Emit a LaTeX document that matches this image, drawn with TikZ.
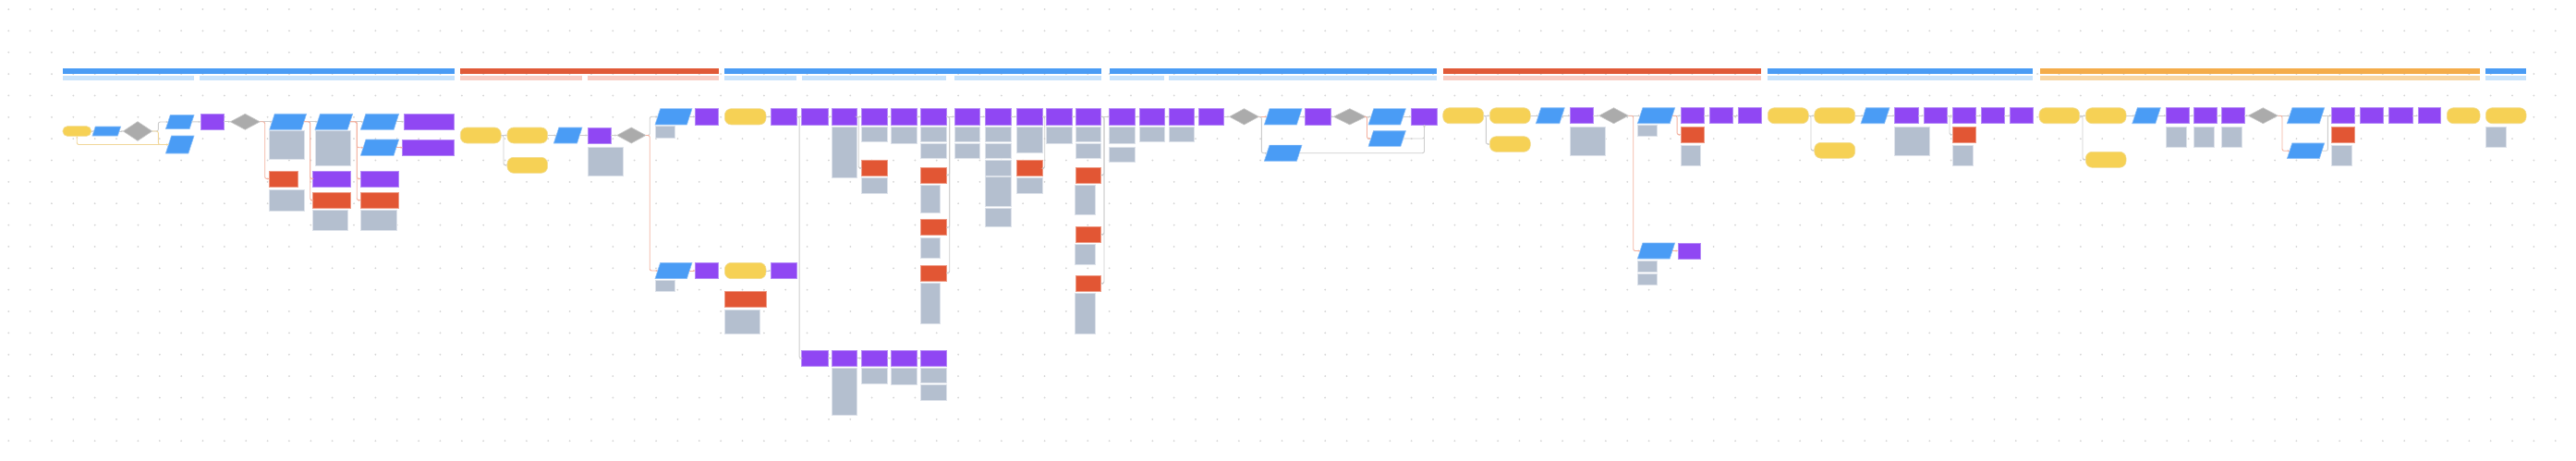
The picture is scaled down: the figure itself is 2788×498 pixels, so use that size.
\documentclass[tikz,border=0pt]{standalone}
\usetikzlibrary{shapes.geometric,arrows.meta}

\newlength{\px}
\setlength{\px}{0.02cm}

\definecolor{termfill}{HTML}{F6D155}
\definecolor{termline}{HTML}{F2DD94}
\definecolor{iofill}{HTML}{4A9CF5}
\definecolor{ioline}{HTML}{8DC0F8}
\definecolor{procfill}{HTML}{9047F3}
\definecolor{procline}{HTML}{B58BF7}
\definecolor{alertfill}{HTML}{E25634}
\definecolor{alertline}{HTML}{EE9A85}
\definecolor{notefill}{HTML}{B4BFCF}
\definecolor{noteline}{HTML}{DDE2EA}
\definecolor{decfill}{HTML}{ABABAB}
\definecolor{decline}{HTML}{C8C8C8}
\definecolor{flowgray}{HTML}{CCCCCC}
\definecolor{flowred}{HTML}{F4B09E}
\definecolor{flowtan}{HTML}{F1D79A}
\definecolor{dotc}{HTML}{D3D3D3}
\definecolor{hdblue}{HTML}{4A9CF5}
\definecolor{subblue}{HTML}{C8E3FC}
\definecolor{hdred}{HTML}{E05A38}
\definecolor{subred}{HTML}{F9CDC4}
\definecolor{hdorange}{HTML}{F4AC4A}
\definecolor{suborange}{HTML}{F8D6A2}

\begin{document}
\begin{tikzpicture}[
 x=0.02cm,y=-0.02cm,
 every node/.style={inner sep=0pt,outer sep=0pt},
 wh/.style 2 args={minimum width=#1\px,minimum height=#2\px},
 term/.style={rectangle,rounded corners=7\px,fill=termfill,draw=termline,line width=0.35pt},
 io/.style 2 args={trapezium,trapezium left angle=72,trapezium right angle=108,
  inner xsep={(#1/2-0.325*#2)*\px},inner ysep={#2/2*\px},
  fill=iofill,draw=ioline,line width=0.35pt},
 proc/.style={rectangle,fill=procfill,draw=procline,line width=0.35pt,wh={25}{17}},
 alert/.style={rectangle,fill=alertfill,draw=alertline,line width=0.35pt,wh={25}{17}},
 note/.style={rectangle,fill=notefill,draw=noteline,line width=0.35pt},
 dec/.style={diamond,fill=decfill,draw=decline,line width=0.35pt},
 flow/.style={draw=flowgray,line width=0.5pt,rounded corners=2\px,-{Stealth[length=1.3pt,width=1.2pt]}},
 noflow/.style={flow,draw=flowred},
 loopflow/.style={flow,draw=flowtan}
]
 \useasboundingbox (0,0) rectangle (2788,498);
 \fill[white] (0,0) rectangle (2788,498);

 % dotted canvas
 \foreach \i in {0,...,119}
  \foreach \j in {0,...,20}
   \fill[dotc] ({9.25+23.36*\i},{10+23.36*\j}) circle (1\px);

 % lane headers
 \foreach \a/\b/\c in {68/491.7/hdblue,498.3/777.7/hdred,784.3/1191.7/hdblue,
  1201/1555.3/hdblue,1561.7/1906.3/hdred,1913.3/2200.3/hdblue,
  2208.3/2684/hdorange,2690/2734/hdblue}
  \fill[\c] (\a,74.3) rectangle (\b,80);
 \foreach \a/\b/\c in {68/209.7/subblue,215.7/491.7/subblue,498.3/630/subred,
  636/777.7/subred,784.3/862/subblue,868/1024/subblue,1033/1191.7/subblue,
  1201/1260.3/subblue,1265/1555.3/subblue,1561.7/1906.3/subred,
  1913.3/2200.3/subblue,2208.3/2684/suborange,2690/2734/subblue}
  \fill[\c] (\a,81.7) rectangle (\b,87);

 % first lane
 \node[term,rounded corners=5\px,wh={30.7}{10.7}] (start) at (83.3,142) {};
 \node[io={30.7}{10}] (in1) at (115.3,142) {};
 \node[dec,wh={31.3}{20.7}] (d1) at (149,142) {};
 \node[io={30.7}{15.3}] (in2) at (194.7,132) {};
 \node[io={30.7}{19}] (in3) at (194.7,156.5) {};
 \node[proc] (p1) at (229.5,131.8) {};
 \node[dec,wh={32}{17}] (d2) at (265.3,131.8) {};

 \node[io={40}{17}] (in4) at (311.7,131.8) {};
 \node[note,wh={37.6}{31}] (n4) at (310.5,157.2) {};
 \node[alert,wh={30.6}{17}] (e4) at (307,193.5) {};
 \node[note,wh={37.6}{22.3}] (n4b) at (310.5,216.8) {};
 \node[io={40.7}{17}] (in5) at (361.3,131.8) {};
 \node[note,wh={38.3}{37.6}] (n5) at (360.2,160.5) {};
 \node[proc,wh={40.6}{17}] (p5) at (359,193.5) {};
 \node[alert,wh={40.6}{16.7}] (e5) at (359,216.7) {};
 \node[note,wh={38}{22}] (n5b) at (357.7,238.3) {};
 \node[io={41.4}{17}] (in6) at (411,131.8) {};
 \node[io={41.4}{17.3}] (in7) at (411,159.7) {};
 \node[proc,wh={41.4}{17}] (p6) at (411,193.5) {};
 \node[alert,wh={41.4}{16.7}] (e6) at (411,216.7) {};
 \node[note,wh={38.7}{22}] (n6) at (409.7,238.3) {};
 \node[proc,wh={54.7}{17}] (p7) at (464.3,131.8) {};
 \node[proc,wh={56}{17.3}] (p8) at (463.7,159.7) {};

 \draw[flow] (start) -- (in1);
 \draw[flow] (in1) -- (d1);
 \draw[flow] (d1.east) -- ++(6.7,0) |- (in2);
 \draw[loopflow] (d1.east) -- ++(6.7,0) |- (in3);
 \draw[loopflow] (in3.west) -| (start.south);
 \draw[flow] (in2) -- (p1);
 \draw[flow] (p1) -- (d2);
 \draw[flow] (d2) -- (in4);
 \draw[noflow] (d2.east) -- ++(5.4,0) |- (e4);
 \draw[flow] (in4) -- (in5);
 \draw[noflow] (in4.east) -- ++(6.8,0) |- (p5);
 \draw[noflow] (in4.east) -- ++(6.8,0) |- (e5);
 \draw[flow] (in5) -- (in6);
 \draw[noflow] (in5.east) -- ++(7.4,0) |- (in7);
 \draw[noflow] (in5.east) -- ++(7.4,0) |- (p6);
 \draw[noflow] (in5.east) -- ++(7.4,0) |- (e6);
 \draw[flow] (in6) -- (p7);
 \draw[noflow] (in7) -- (p8);

 % second lane
 \node[term,wh={44}{17}] (s2) at (520.3,146.5) {};
 \node[term,wh={43.7}{17}] (t2a) at (570.8,146.5) {};
 \node[term,wh={43.7}{17}] (t2b) at (570.8,178.8) {};
 \node[io={30.7}{17}] (in8) at (614.7,146.5) {};
 \node[proc] (p9) at (648.5,146.5) {};
 \node[note,wh={38.3}{30.7}] (n9) at (655.2,174.7) {};
 \node[dec,wh={31.3}{17}] (d3) at (683.3,146.5) {};
 \node[io={40}{17.3}] (in9) at (729,126.3) {};
 \node[note,wh={21}{12.6}] (n9a) at (719.5,143) {};
 \node[io={40}{17.3}] (in10) at (729,293) {};
 \node[note,wh={21}{12.4}] (n10) at (719.5,309.5) {};
 \node[proc,wh={25.3}{17.3}] (p10) at (765,126.3) {};
 \node[proc,wh={25.3}{17.3}] (p11) at (765,293) {};

 \draw[flow] (s2) -- (t2a);
 \draw[flow] (s2.east) -- ++(2.7,0) |- (t2b);
 \draw[flow] (t2a) -- (in8);
 \draw[flow] (in8) -- (p9);
 \draw[flow] (p9) -- (d3);
 \draw[flow] (d3.east) -- ++(4.3,0) |- (in9);
 \draw[noflow] (d3.east) -- ++(4.3,0) |- (in10);
 \draw[flow] (in9) -- (p10);
 \draw[noflow] (in10) -- (p11);

 % third lane, two rows of steps
 \node[term,wh={44.7}{17.3}] (s3a) at (806.7,126.3) {};
 \node[term,wh={44.7}{17.3}] (s3b) at (806.7,293) {};
 \node[alert,wh={44.7}{17.3}] (e12) at (806.7,323.7) {};
 \node[note,wh={38}{26}] (n12) at (803.3,348) {};
 \node[proc,wh={28.3}{17.3}] (p12) at (848.2,126.3) {};
 \node[proc,wh={28.3}{17.3}] (p13) at (848.2,293) {};

 \node[proc,wh={28.3}{17.3}] (q1) at (881.8,126.3) {};
 \node[proc,wh={27.7}{17.3}] (q2) at (913.8,126.3) {};
 \node[note,wh={27.7}{55.7}] (q2n) at (913.8,164.8) {};
 \node[proc,wh={27.7}{17.3}] (q3) at (946.2,126.3) {};
 \node[note,wh={27.7}{16.3}] (q3n) at (946.2,145.2) {};
 \node[alert,wh={27.7}{17.4}] (q3e) at (946.2,182) {};
 \node[note,wh={27.7}{16.3}] (q3m) at (946.2,200.8) {};
 \node[proc,wh={28}{17.3}] (q4) at (978,126.3) {};
 \node[note,wh={28}{18}] (q4n) at (978,146) {};
 \node[proc,wh={28}{17.3}] (q5) at (1010,126.3) {};
 \node[note,wh={28}{16.3}] (q5n) at (1010,145.2) {};
 \node[note,wh={28}{16.4}] (q5m) at (1010,163.5) {};
 \node[alert,wh={28}{17}] (q5e) at (1010,189.5) {};
 \node[note,wh={21.7}{30.4}] (q5en) at (1006.8,215.5) {};
 \node[alert,wh={28}{17}] (q5f) at (1010,246.2) {};
 \node[note,wh={21.7}{22}] (q5fn) at (1006.8,268) {};
 \node[alert,wh={28}{17}] (q5g) at (1010,295.5) {};
 \node[note,wh={21.7}{44}] (q5gn) at (1006.8,328.3) {};
 \node[proc,wh={27.7}{17.3}] (q6) at (1046.8,126.3) {};
 \node[note,wh={27.7}{16.3}] (q6n) at (1046.8,145.2) {};
 \node[note,wh={27.7}{16.4}] (q6m) at (1046.8,163.5) {};
 \node[proc,wh={28.3}{17.3}] (q7) at (1080.2,126.3) {};
 \node[note,wh={28.3}{16.3}] (q7n) at (1080.2,145.2) {};
 \node[note,wh={28.3}{16.4}] (q7m) at (1080.2,163.5) {};
 \node[note,wh={28.3}{16.3}] (q7o) at (1080.2,181.8) {};
 \node[note,wh={28.3}{32}] (q7p) at (1080.2,207.7) {};
 \node[note,wh={28.3}{20}] (q7r) at (1080.2,235.7) {};
 \node[proc,wh={28}{17.3}] (q8) at (1114,126.3) {};
 \node[note,wh={28}{28}] (q8n) at (1114,151) {};
 \node[alert,wh={28}{17.4}] (q8e) at (1114,182) {};
 \node[note,wh={28}{16.3}] (q8m) at (1114,200.8) {};
 \node[proc,wh={28}{17.3}] (q9) at (1146,126.3) {};
 \node[note,wh={28}{18}] (q9n) at (1146,146) {};
 \node[proc,wh={27.7}{17.3}] (q10) at (1177.8,126.3) {};
 \node[note,wh={27.7}{16.3}] (q10n) at (1177.8,145.2) {};
 \node[note,wh={27.7}{16.4}] (q10m) at (1177.8,163.5) {};
 \node[alert,wh={27.7}{17}] (q10e) at (1177.8,189.5) {};
 \node[note,wh={21.7}{32.4}] (q10en) at (1174.5,216.5) {};
 \node[alert,wh={27.7}{17}] (q10f) at (1177.8,253.8) {};
 \node[note,wh={21.7}{22}] (q10fn) at (1174.5,275.7) {};
 \node[alert,wh={27.7}{17}] (q10g) at (1177.8,306.8) {};
 \node[note,wh={21.7}{43.3}] (q10gn) at (1174.5,339.3) {};

 \node[proc,wh={28.3}{17.3}] (r1) at (881.8,387.7) {};
 \node[proc,wh={27.7}{17.3}] (r2) at (913.8,387.7) {};
 \node[note,wh={27.7}{51}] (r2n) at (913.8,423.8) {};
 \node[proc,wh={27.7}{17.3}] (r3) at (946.2,387.7) {};
 \node[note,wh={27.7}{16.7}] (r3n) at (946.2,406.7) {};
 \node[proc,wh={28}{17.3}] (r4) at (978,387.7) {};
 \node[note,wh={28}{18.4}] (r4n) at (978,407.5) {};
 \node[proc,wh={28}{17.3}] (r5) at (1010,387.7) {};
 \node[note,wh={28}{16}] (r5n) at (1010,406.3) {};
 \node[note,wh={28}{16.3}] (r5m) at (1010,424.8) {};

 \draw[flow] (s3a) -- (p12);
 \draw[flow] (s3b) -- (p13);
 \draw[flow] (p12) -- (q1);
 \draw[flow] (p12.east) -- ++(2.7,0) |- (r1);
 \draw[flow] (q1) -- (q2);
 \draw[flow] (q2) -- (q3);
 \draw[flow] (q2.east) -- ++(1.6,0) |- (q3e);
 \draw[flow] (q3) -- (q4);
 \draw[flow] (q4) -- (q5);
 \draw[flow] (q5) -- (q6);
 \draw[flow] (q5.east) -- ++(3.7,0) |- (q5e);
 \draw[flow] (q5.east) -- ++(3.7,0) |- (q5f);
 \draw[flow] (q5.east) -- ++(3.7,0) |- (q5g);
 \draw[flow] (q6) -- (q7);
 \draw[flow] (q7) -- (q8);
 \draw[flow] (q8) -- (q9);
 \draw[flow] (q8.east) -- ++(2.7,0) |- (q8e);
 \draw[flow] (q9) -- (q10);
 \draw[flow] (r1) -- (r2);
 \draw[flow] (r2) -- (r3);
 \draw[flow] (r3) -- (r4);
 \draw[flow] (r4) -- (r5);

 % fourth lane
 \node[proc,wh={28}{17.3}] (u1) at (1214.7,126.3) {};
 \node[note,wh={28}{18}] (u1n) at (1214.7,146) {};
 \node[note,wh={28}{16}] (u1m) at (1214.7,167) {};
 \node[proc,wh={27.7}{17.3}] (u2) at (1246.8,126.3) {};
 \node[note,wh={27.7}{16.3}] (u2n) at (1246.8,145.2) {};
 \node[proc,wh={27.7}{17.3}] (u3) at (1278.8,126.3) {};
 \node[note,wh={27.7}{16.3}] (u3n) at (1278.8,145.2) {};
 \node[proc,wh={27.7}{17.3}] (u4) at (1310.8,126.3) {};
 \node[dec,wh={31.7}{17.3}] (d4) at (1346.5,126.3) {};
 \node[io={40.7}{17.3}] (in11) at (1388.7,126.3) {};
 \node[io={40.7}{17.3}] (in12) at (1388.7,165.7) {};
 \node[proc,wh={28.4}{17.3}] (u5) at (1426.5,126.3) {};
 \node[dec,wh={35}{17.3}] (d5) at (1460.8,126.3) {};
 \node[io={40.3}{17.3}] (in13) at (1501.2,126.3) {};
 \node[io={40.3}{16.6}] (in14) at (1501.2,150) {};
 \node[proc,wh={28.4}{17.3}] (u6) at (1541.5,126.3) {};

 \draw[flow] (q10) -- (u1);
 \draw[flow] (q10.east) -- ++(3.3,0) |- (q10e);
 \draw[flow] (q10.east) -- ++(3.3,0) |- (q10f);
 \draw[flow] (q10.east) -- ++(3.3,0) |- (q10g);
 \draw[flow] (u1) -- (u2);
 \draw[flow] (u2) -- (u3);
 \draw[flow] (u3) -- (u4);
 \draw[flow] (u4) -- (d4);
 \draw[noflow] (d4) -- (in11);
 \draw[flow] (d4.east) -- ++(3,0) |- (in12);
 \draw[flow] (in11) -- (u5);
 \draw[flow] (in12.east) -| (u6.south);
 \draw[flow] (u5) -- (d5);
 \draw[flow] (d5) -- (in13);
 \draw[noflow] (d5.east) -- ++(1.2,0) |- (in14);
 \draw[flow] (in13) -- (u6);
 \draw[flow] (in14.east) -| (u6.south);

 % fifth lane
 \node[term,wh={44}{17}] (s5) at (1583.7,125.2) {};
 \node[term,wh={44}{17}] (t5a) at (1634.3,125.2) {};
 \node[term,wh={44}{16.6}] (t5b) at (1634.3,156) {};
 \node[io={31}{17}] (in15) at (1677.8,125.2) {};
 \node[proc] (v1) at (1711.8,125.2) {};
 \node[note,wh={38}{30.6}] (v1n) at (1718.3,153) {};
 \node[dec,wh={31.6}{17}] (d6) at (1746.5,125.2) {};
 \node[io={40.4}{17}] (in16) at (1792.5,125.2) {};
 \node[note,wh={21}{12}] (in16n) at (1782.8,141.7) {};
 \node[io={40.4}{17}] (in17) at (1792.5,271.5) {};
 \node[note,wh={21}{12}] (in17n) at (1782.8,288) {};
 \node[note,wh={21}{12}] (in17m) at (1782.8,302.3) {};
 \node[proc,wh={24.7}{17}] (v2) at (1828.3,271.5) {};
 \node[proc] (v3) at (1831.5,125.2) {};
 \node[alert] (v3e) at (1831.5,145.8) {};
 \node[note,wh={21.7}{21.6}] (v3n) at (1829.8,168.5) {};
 \node[proc,wh={25.3}{17}] (v4) at (1862.7,125.2) {};
 \node[proc] (v5) at (1893.8,125.2) {};

 \draw[flow] (s5) -- (t5a);
 \draw[flow] (s5.east) -- ++(2.6,0) |- (t5b);
 \draw[flow] (t5a) -- (in15);
 \draw[flow] (in15) -- (v1);
 \draw[flow] (v1) -- (d6);
 \draw[flow] (d6) -- (in16);
 \draw[noflow] (d6.east) -- ++(5.4,0) |- (in17);
 \draw[noflow] (in17) -- (v2);
 \draw[flow] (in16) -- (v3);
 \draw[noflow] (in16.east) -- ++(5.1,0) |- (v3e);
 \draw[flow] (v3) -- (v4);
 \draw[flow] (v4) -- (v5);

 % sixth lane
 \node[term,wh={44}{17}] (s6) at (1935.3,125.2) {};
 \node[term,wh={44}{17}] (t6a) at (1985.7,125.2) {};
 \node[term,wh={44}{17}] (t6b) at (1985.7,162.8) {};
 \node[io={31}{17}] (in18) at (2029.5,125.2) {};
 \node[proc,wh={25.3}{17}] (w1) at (2063.3,125.2) {};
 \node[note,wh={38}{30.6}] (w1n) at (2069.7,153) {};
 \node[proc] (w2) at (2094.5,125.2) {};
 \node[proc,wh={25.3}{17}] (w3) at (2125.7,125.2) {};
 \node[alert,wh={25.3}{17}] (w3e) at (2125.7,145.8) {};
 \node[note,wh={22}{21.6}] (w3n) at (2124,168.5) {};
 \node[proc] (w4) at (2156.8,125.2) {};
 \node[proc] (w5) at (2188.2,125.2) {};

 \draw[flow] (s6) -- (t6a);
 \draw[flow] (s6.east) -- ++(2.7,0) |- (t6b);
 \draw[flow] (t6a) -- (in18);
 \draw[flow] (in18) -- (w1);
 \draw[flow] (w1) -- (w2);
 \draw[flow] (w2) -- (w3);
 \draw[flow] (w2.east) -- ++(3,0) |- (w3e);
 \draw[flow] (w3) -- (w4);
 \draw[flow] (w4) -- (w5);

 % seventh lane
 \node[term,wh={43.7}{17}] (s7) at (2228.8,125.2) {};
 \node[term,wh={43.7}{17}] (t7a) at (2279.2,125.2) {};
 \node[term,wh={43.7}{17}] (t7b) at (2279.2,172.8) {};
 \node[io={30.6}{17}] (in19) at (2323,125.2) {};
 \node[proc,wh={25.4}{17}] (x1) at (2357,125.2) {};
 \node[note,wh={22.4}{22}] (x1n) at (2355.5,148.7) {};
 \node[proc,wh={25.3}{17}] (x2) at (2386.7,125.2) {};
 \node[note,wh={22.6}{22}] (x2n) at (2385.3,148.7) {};
 \node[proc,wh={25.3}{17}] (x3) at (2416.7,125.2) {};
 \node[note,wh={22.4}{22}] (x3n) at (2415.2,148.7) {};
 \node[dec,wh={32}{17}] (d7) at (2449.3,125.2) {};
 \node[io={40.4}{17}] (in20) at (2495.5,125.2) {};
 \node[io={40.4}{16.7}] (in21) at (2495.5,163.3) {};
 \node[proc] (x4) at (2535.8,125.2) {};
 \node[alert] (x4e) at (2535.8,145.8) {};
 \node[note,wh={22}{21.6}] (x4n) at (2534.3,168.5) {};
 \node[proc,wh={25.4}{17}] (x5) at (2567,125.2) {};
 \node[proc,wh={25.3}{17}] (x6) at (2598.3,125.2) {};
 \node[proc,wh={24.7}{17}] (x7) at (2629.3,125.2) {};
 \node[term,wh={35.7}{17}] (x8) at (2666.2,125.2) {};

 \draw[flow] (s7) -- (t7a);
 \draw[flow] (s7.east) -- ++(3.3,0) |- (t7b);
 \draw[flow] (t7a) -- (in19);
 \draw[flow] (in19) -- (x1);
 \draw[flow] (x1) -- (x2);
 \draw[flow] (x2) -- (x3);
 \draw[flow] (x3) -- (d7);
 \draw[flow] (d7) -- (in20);
 \draw[noflow] (d7.east) -- ++(4.7,0) |- (in21);
 \draw[flow] (in20) -- (x4);
 \draw[flow] (in21.east) -- ++(6.4,0) |- (x4);
 \draw[flow] (x4) -- (x5);
 \draw[flow] (x5) -- (x6);
 \draw[flow] (x6) -- (x7);

 % last lane
 \node[term,wh={43.7}{17}] (s8) at (2712.2,125.2) {};
 \node[note,wh={21.7}{22.4}] (s8n) at (2701.2,148.5) {};
\end{tikzpicture}
\end{document}
